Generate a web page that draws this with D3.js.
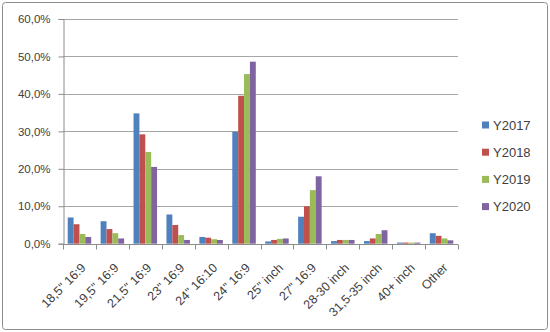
<!DOCTYPE html>
<html>
<head>
<meta charset="utf-8">
<script src="https://cdn.jsdelivr.net/npm/d3@7"></script>
<style>
  body { margin: 0; background: #fff; }
  text { font-family: "Liberation Sans", Arial, sans-serif; fill: #404040; }
</style>
</head>
<body>
<svg width="550" height="332"></svg>
<script>
// категории и значения рядов (в процентах)
const categories = ['18,5" 16:9', '19,5" 16:9', '21,5" 16:9', '23" 16:9', '24" 16:10', '24" 16:9',
    '25" inch', '27" 16:9', '28-30 inch', '31,5-35 inch', '40+ inch', 'Other'];
const seriesNames = ["Y2017", "Y2018", "Y2019", "Y2020"];
const y2017 = [7.0, 6.0, 34.8, 7.8, 1.8, 29.9, 0.6, 7.2, 0.7, 0.7, 0.3, 2.8];
const y2018 = [5.2, 3.9, 29.2, 5.0, 1.6, 39.5, 1.0, 10.0, 1.0, 1.4, 0.3, 2.1];
const y2019 = [2.6, 2.8, 24.5, 2.3, 1.2, 45.3, 1.3, 14.3, 1.0, 2.6, 0.3, 1.4];
const y2020 = [1.8, 1.4, 20.5, 1.0, 1.0, 48.6, 1.4, 18.0, 1.0, 3.6, 0.3, 0.9];
const yTicks = [0, 10, 20, 30, 40, 50, 60];
const colors = ["#4F81BD", "#C0504D", "#9BBB59", "#8064A2"];

const seriesValues = [y2017, y2018, y2019, y2020];

const svg = d3.select("svg");

// рамка вокруг диаграммы
svg.append("rect")
    .attr("x", 2.5).attr("y", 2.5)
    .attr("width", 545).attr("height", 327)
    .attr("rx", 3)
    .attr("fill", "#fff")
    .attr("stroke", "#8c8c8c");

const plotLeft = 63, plotRight = 458, plotTop = 19, plotBottom = 243.7;

const x0 = d3.scaleBand().domain(categories).range([plotLeft, plotRight]);
const pad = x0.bandwidth() * 0.143;
const x1 = d3.scaleBand().domain(seriesNames).range([pad, x0.bandwidth() - pad]);
const y = d3.scaleLinear().domain([0, 60]).range([plotBottom, plotTop]);

// линии сетки
svg.append("g")
    .selectAll("line")
    .data(yTicks.filter(d => d > 0))
    .join("line")
    .attr("x1", plotLeft).attr("x2", plotRight)
    .attr("y1", d => Math.round(y(d)) + 0.5)
    .attr("y2", d => Math.round(y(d)) + 0.5)
    .attr("stroke", "#a6a6a6");

// столбцы
const groups = svg.append("g")
    .selectAll("g")
    .data(categories)
    .join("g")
    .attr("transform", d => `translate(${x0(d)},0)`);

groups.selectAll("rect")
    .data((d, i) => seriesNames.map((s, k) => ({s: s, v: seriesValues[k][i], k: k})))
    .join("rect")
    .attr("x", d => x1(d.s))
    .attr("width", x1.bandwidth())
    .attr("y", d => y(d.v))
    .attr("height", d => plotBottom - y(d.v))
    .attr("fill", d => colors[d.k]);

// ось Y
const yAxis = d3.axisLeft(y)
    .tickValues(yTicks)
    .tickSize(5)
    .tickPadding(8)
    .tickFormat(d => d3.format(".1f")(d).replace(".", ",") + "%");

const gy = svg.append("g")
    .attr("transform", `translate(${plotLeft + 0.5},0)`)
    .call(yAxis);
gy.selectAll("path, line").attr("stroke", "#8c8c8c");
gy.selectAll("text").style("font-size", "11.5px").attr("fill", "#404040");

// ось X
const gx = svg.append("g")
    .attr("transform", `translate(0,${Math.round(plotBottom) + 0.5})`);
gx.append("line")
    .attr("x1", plotLeft).attr("x2", plotRight)
    .attr("stroke", "#8c8c8c");
gx.selectAll("line.tick")
    .data(d3.range(categories.length + 1))
    .join("line")
    .attr("class", "tick")
    .attr("x1", i => Math.round(plotLeft + i * x0.step()) + 0.5)
    .attr("x2", i => Math.round(plotLeft + i * x0.step()) + 0.5)
    .attr("y1", 0).attr("y2", 5)
    .attr("stroke", "#8c8c8c");
// подписи повернуты на 45 градусов
gx.selectAll("text")
    .data(categories)
    .join("text")
    .attr("text-anchor", "end")
    .attr("transform", d => `translate(${x0(d) + x0.bandwidth() / 2 + 7},${24}) rotate(-45)`)
    .style("font-size", "12.5px")
    .text(d => d);

// легенда
const legend = svg.append("g")
    .selectAll("g")
    .data(seriesNames)
    .join("g")
    .attr("transform", (d, i) => `translate(482,${125 + i * 27.2})`);
legend.append("rect")
    .attr("x", 0).attr("y", -3.5)
    .attr("width", 7).attr("height", 7)
    .attr("fill", (d, i) => colors[i]);
legend.append("text")
    .attr("x", 11).attr("y", 4.5)
    .style("font-size", "13px")
    .text(d => d);
</script>
</body>
</html>
